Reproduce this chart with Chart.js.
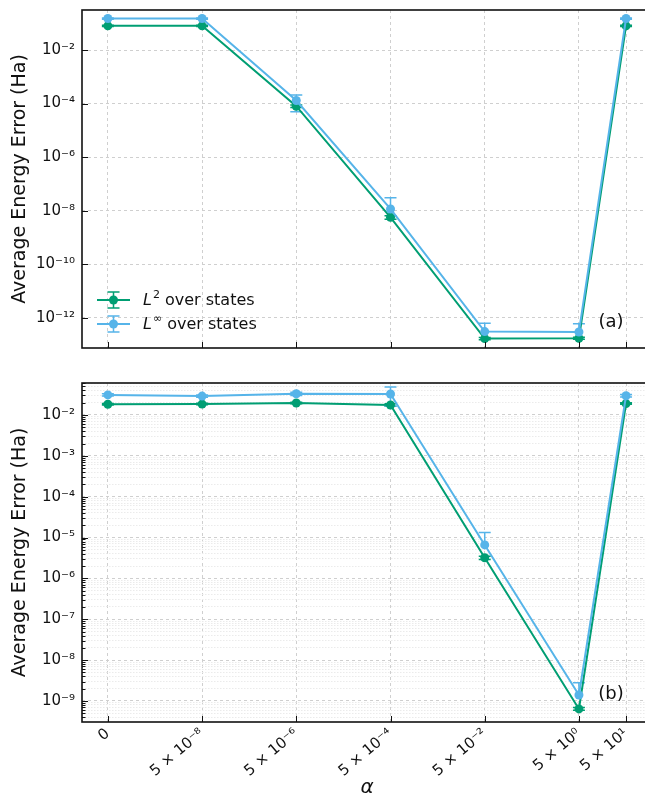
<!DOCTYPE html>
<html>
<head>
<meta charset="utf-8">
<script src="https://cdn.jsdelivr.net/npm/chart.js@4.4.0/dist/chart.umd.min.js"></script>
<style>
    html, body { margin: 0; padding: 0; background: #fff; width: 645px; height: 800px; overflow: hidden; }
    .panel { position: absolute; left: 0; }
</style>
</head>
<body>
<div class="panel" style="top:0"><canvas id="chart-a" width="660" height="360"></canvas></div>
<div class="panel" style="top:370px"><canvas id="chart-b" width="660" height="430"></canvas></div>
<script>
// alpha values (0 is put at 5e-10 so it fits on the log axis)
const alphas = [0, 5e-8, 5e-6, 5e-4, 5e-2, 5, 50];
const alphaLabels = ['0', '5 × 10⁻⁸', '5 × 10⁻⁶', '5 × 10⁻⁴', '5 × 10⁻²', '5 × 10⁰', '5 × 10¹'];
const zeroAt = 5e-10;

// panel (a)
const l2A = [0.08, 0.08, 8e-5, 5.7e-9, 1.7e-13, 1.75e-13, 0.08];
const l2ErrA = [0.004, 0.004, 8e-6, 9e-10, 1.5e-14, 1.5e-14, 0.004];
const linfA = [0.15, 0.15, 1.3e-4, 1.17e-8, 3.1e-13, 3.0e-13, 0.15];
const linfErrA = [0.008, 0.008, 0.8e-4, 1.9e-8, 3.2e-13, 3.1e-13, 0.008];

// panel (b)
const l2B = [0.0183, 0.0185, 0.0197, 0.0176, 3.2e-6, 6.4e-10, 0.019];
const l2ErrB = [0.0008, 0.0008, 0.0009, 0.0012, 3e-7, 5e-11, 0.0008];
const linfB = [0.031, 0.029, 0.033, 0.0326, 6.6e-6, 1.4e-9, 0.0296];
const linfErrB = [0.002, 0.002, 0.003, 0.016, 6.7e-6, 1.4e-9, 0.002];

// y tick labels
const yTicksA = [1e-12, 1e-10, 1e-8, 1e-6, 1e-4, 1e-2];
const yLabelsA = ['10⁻¹²', '10⁻¹⁰', '10⁻⁸', '10⁻⁶', '10⁻⁴', '10⁻²'];
const yTicksB = [1e-9, 1e-8, 1e-7, 1e-6, 1e-5, 1e-4, 1e-3, 1e-2];
const yLabelsB = ['10⁻⁹', '10⁻⁸', '10⁻⁷', '10⁻⁶', '10⁻⁵', '10⁻⁴', '10⁻³', '10⁻²'];

const green = '#009E73';
const blue = '#56B4E9';
const FONT = 'DejaVu Sans';

function points(vals) {
    return vals.map((v, i) => ({ x: alphas[i] === 0 ? zeroAt : alphas[i], y: v }));
}

// vertical error bars with caps, masked below zero like a log plot
const errorBars = {
    id: 'errorBars',
    beforeDatasetsDraw(chart) {
        const { ctx, scales: { x, y } } = chart;
        const sets = chart.data.datasets.slice().sort((a, b) => b.order - a.order);
        sets.forEach(ds => {
            ctx.save();
            ctx.strokeStyle = ds.borderColor;
            ctx.lineWidth = 1.5;
            ds.data.forEach((p, i) => {
                const e = ds.errors[i];
                const px = x.getPixelForValue(p.x);
                const pc = y.getPixelForValue(p.y);
                const pt = y.getPixelForValue(p.y + e);
                const low = p.y - e;
                const pb = low > 0 ? y.getPixelForValue(low) : pc;
                ctx.beginPath();
                ctx.moveTo(px, pt); ctx.lineTo(px, pb);
                ctx.moveTo(px - 6, pt); ctx.lineTo(px + 6, pt);
                if (low > 0) { ctx.moveTo(px - 6, pb); ctx.lineTo(px + 6, pb); }
                ctx.stroke();
            });
            ctx.restore();
        });
    }
};

// box frame and inward ticks
const frame = {
    id: 'frame',
    afterDraw(chart) {
        const { ctx, chartArea: a, scales: { x, y } } = chart;
        ctx.save();
        ctx.strokeStyle = '#111';
        ctx.lineWidth = 1;
        ctx.beginPath();
        y.ticks.forEach(t => {
            const py = Math.round(y.getPixelForValue(t.value)) + 0.5;
            ctx.moveTo(a.left, py);
            ctx.lineTo(a.left + (t.major ? 6 : 3.5), py);
        });
        x.ticks.forEach(t => {
            const px = Math.round(x.getPixelForValue(t.value)) + 0.5;
            ctx.moveTo(px, a.bottom);
            ctx.lineTo(px, a.bottom - 6);
        });
        ctx.stroke();
        ctx.lineWidth = 1.6;
        ctx.strokeRect(a.left, a.top, a.right - a.left, a.bottom - a.top);
        ctx.restore();
    }
};

// legend handle + text, drawn inside panel (a)
function legendRow(ctx, y, color, sup) {
    ctx.strokeStyle = color;
    ctx.fillStyle = color;
    ctx.lineWidth = 2;
    ctx.beginPath();
    ctx.moveTo(97, y); ctx.lineTo(130, y);
    ctx.stroke();
    ctx.lineWidth = 1.5;
    ctx.beginPath();
    ctx.moveTo(113.5, y - 8); ctx.lineTo(113.5, y + 8);
    ctx.moveTo(107.5, y - 8); ctx.lineTo(119.5, y - 8);
    ctx.moveTo(107.5, y + 8); ctx.lineTo(119.5, y + 8);
    ctx.stroke();
    ctx.beginPath();
    ctx.arc(113.5, y, 4.5, 0, Math.PI * 2);
    ctx.fill();
    ctx.fillStyle = '#111';
    ctx.textBaseline = 'middle';
    ctx.textAlign = 'left';
    let tx = 143;
    ctx.font = 'italic 16px "' + FONT + '"';
    ctx.fillText('L', tx, y + 1);
    tx += ctx.measureText('L').width + 1;
    ctx.font = '11px "' + FONT + '"';
    ctx.fillText(sup, tx, y - 5);
    tx += ctx.measureText(sup).width;
    ctx.font = '16px "' + FONT + '"';
    ctx.fillText(' over states', tx, y + 1);
}

const labelsA = {
    id: 'labelsA',
    afterDraw(chart) {
        const ctx = chart.ctx;
        ctx.save();
        legendRow(ctx, 300, green, '2');
        legendRow(ctx, 324, blue, '∞');
        ctx.fillStyle = '#111';
        ctx.font = '18px "' + FONT + '"';
        ctx.textAlign = 'center';
        ctx.textBaseline = 'middle';
        ctx.fillText('(a)', 611, 322);
        ctx.restore();
    }
};

const labelsB = {
    id: 'labelsB',
    afterDraw(chart) {
        const ctx = chart.ctx;
        ctx.save();
        ctx.fillStyle = '#111';
        ctx.font = '18px "' + FONT + '"';
        ctx.textAlign = 'center';
        ctx.textBaseline = 'middle';
        ctx.fillText('(b)', 611, 324);
        ctx.restore();
    }
};

function makeChart(id, l2, l2Err, linf, linfErr, opts) {
    const data = {
        datasets: [{
            label: 'L2 over states',
            data: points(l2),
            errors: l2Err,
            borderColor: green,
            backgroundColor: green,
            order: 2
        }, {
            label: 'Linf over states',
            data: points(linf),
            errors: linfErr,
            borderColor: blue,
            backgroundColor: blue,
            order: 1
        }]
    };
    const config = {
        type: 'line',
        data,
        options: {
            responsive: false,
            animation: false,
            devicePixelRatio: 1,
            layout: { padding: { top: opts.padTop, right: 8, left: 0, bottom: 0 } },
            elements: {
                line: { borderWidth: 2, tension: 0 },
                point: { radius: 4.5, borderWidth: 0, hoverRadius: 4.5 }
            },
            plugins: { legend: { display: false }, tooltip: { enabled: false } },
            scales: {
                x: {
                    type: 'logarithmic',
                    min: Math.pow(10, -9.85),
                    max: Math.pow(10, 2.25),
                    afterBuildTicks: s => {
                        s.ticks = alphas.map(a => ({ value: a === 0 ? zeroAt : a, major: true }));
                    },
                    afterFit: s => {
                        s.height = opts.xHeight;
                        s.paddingLeft = 0;
                        s.paddingRight = 0;
                    },
                    ticks: {
                        display: opts.showX,
                        autoSkip: false,
                        minRotation: 40,
                        maxRotation: 40,
                        padding: 3,
                        color: '#111',
                        font: { family: FONT, size: 15 },
                        callback: (v, i) => alphaLabels[i]
                    },
                    grid: { color: '#cfcfcf', lineWidth: 1, drawTicks: false },
                    border: { display: false, dash: [3, 3] },
                    title: {
                        display: opts.showX,
                        text: 'α',
                        color: '#111',
                        padding: { top: 0, bottom: 0 },
                        font: { family: FONT, size: 20, style: 'italic' }
                    }
                },
                y: {
                    type: 'logarithmic',
                    min: opts.yMin,
                    max: opts.yMax,
                    afterBuildTicks: s => { s.ticks = opts.yTicks(); },
                    afterFit: s => {
                        s.width = 82;
                        s.paddingTop = 0;
                        s.paddingBottom = 0;
                    },
                    ticks: {
                        autoSkip: false,
                        padding: 7,
                        color: '#111',
                        font: { family: FONT, size: 15 },
                        callback: (v, i, ticks) => ticks[i].major ? opts.yLabel(v) : ''
                    },
                    grid: {
                        drawTicks: false,
                        lineWidth: 1,
                        color: c => (c.tick && c.tick.major) ? '#cfcfcf' : '#ebebeb'
                    },
                    border: {
                        display: false,
                        dash: c => (c.tick && c.tick.major) ? [3, 3] : [1.5, 1.5]
                    },
                    title: {
                        display: true,
                        text: 'Average Energy Error (Ha)',
                        color: '#111',
                        padding: { top: 9, bottom: 0 },
                        font: { family: FONT, size: 19 }
                    }
                }
            }
        },
        plugins: [errorBars, frame, opts.labels]
    };
    return new Chart(document.getElementById(id), config);
}

function labelFor(list, labels) {
    return v => {
        const k = list.findIndex(t => Math.abs(Math.log10(t) - Math.log10(v)) < 1e-6);
        return k >= 0 ? labels[k] : '';
    };
}

// panel (a): only the even decades
makeChart('chart-a', l2A, l2ErrA, linfA, linfErrA, {
    padTop: 10,
    xHeight: 12,
    showX: false,
    yMin: Math.pow(10, -13.12),
    yMax: Math.pow(10, -0.507),
    yTicks: () => yTicksA.map(v => ({ value: v, major: true })),
    yLabel: labelFor(yTicksA, yLabelsA),
    labels: labelsA
});

// panel (b): every decade plus minor ticks
makeChart('chart-b', l2B, l2ErrB, linfB, linfErrB, {
    padTop: 13,
    xHeight: 78,
    showX: true,
    yMin: Math.pow(10, -9.514),
    yMax: Math.pow(10, -1.217),
    yTicks: () => {
        const lo = Math.pow(10, -9.514), hi = Math.pow(10, -1.217);
        const out = [];
        for (let e = -10; e <= -1; e++) {
            for (let m = 1; m <= 9; m++) {
                const v = m * Math.pow(10, e);
                if (v >= lo && v <= hi) out.push({ value: v, major: m === 1 });
            }
        }
        return out;
    },
    yLabel: labelFor(yTicksB, yLabelsB),
    labels: labelsB
});
</script>
</body>
</html>
